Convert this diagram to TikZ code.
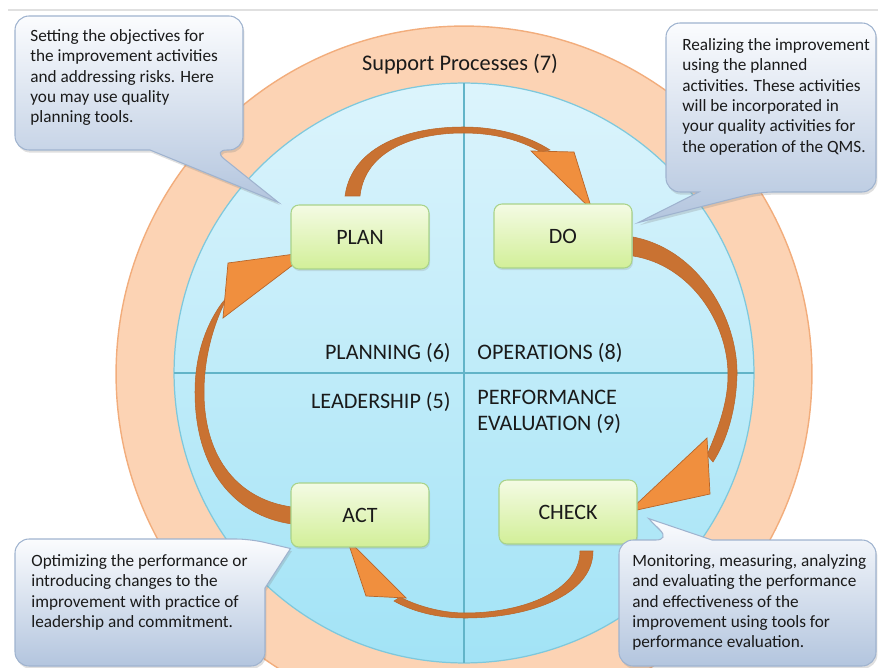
\documentclass[tikz,border=0pt]{standalone}
\usepackage{fontspec}
\setmainfont{Carlito}
\usetikzlibrary{calc,shadows}

\definecolor{ringfill}{HTML}{FCD3B4}
\definecolor{ringedge}{HTML}{F2AD7C}
\definecolor{disctop}{HTML}{DCF4FC}
\definecolor{discbot}{HTML}{A2E3F6}
\definecolor{discedge}{HTML}{7EC8DC}
\definecolor{divline}{HTML}{62B4C8}
\definecolor{boxtop}{HTML}{F4FBE4}
\definecolor{boxbot}{HTML}{D2EF98}
\definecolor{boxedge}{HTML}{A9D38A}
\definecolor{notetop}{HTML}{FBFCFE}
\definecolor{notebot}{HTML}{B3C5DE}
\definecolor{noteedge}{HTML}{9FB3CF}
\definecolor{bodyorange}{HTML}{C97232}
\definecolor{tiporange}{HTML}{F08F3E}
\definecolor{lineorange}{HTML}{B8662A}
\definecolor{ink}{HTML}{1A1A1A}

\tikzset{
  ring/.style={fill=ringfill, draw=ringedge, line width=0.8pt},
  disc/.style={top color=disctop, bottom color=discbot, draw=discedge, line width=0.7pt},
  divider/.style={draw=divline, line width=0.7pt},
  stage/.style={draw=boxedge, top color=boxtop, bottom color=boxbot, line width=0.6pt,
    rounded corners=4.5pt, minimum width=2.76cm, minimum height=1.28cm,
    font=\fontsize{12.5}{15}\selectfont, text=ink,
    drop shadow={shadow xshift=0.6pt, shadow yshift=-1.2pt, opacity=0.2}},
  note/.style={top color=notetop, bottom color=notebot, draw=noteedge, line width=0.6pt,
    drop shadow={shadow xshift=0.8pt, shadow yshift=-1.5pt, opacity=0.25}},
  notetext/.style={anchor=north west, inner sep=0pt, align=left, text=ink,
    font=\fontsize{9.8}{11.6}\selectfont},
  area/.style={inner sep=0pt, align=left, text=ink, font=\fontsize{12.6}{14.8}\selectfont},
  cyclebody/.style={fill=bodyorange, draw=lineorange, line width=0.3pt},
  cyclehead/.style={fill=tiporange, draw=lineorange, line width=0.4pt, line join=miter}
}

\begin{document}
\begin{tikzpicture}[x=0.02cm,y=-0.02cm]
\useasboundingbox (0,0) rectangle (878,668);
\clip (0,0) rectangle (878,668);
\draw[draw=black!12, line width=1.2pt] (8,10) -- (878,10);

\draw[ring] (464,374) circle [radius=6.96cm];
\draw[disc] (464,373) circle [radius=5.8cm];
\begin{scope}
  \clip (464,373) circle [radius=5.8cm];
  \draw[divider] (464,0) -- (464,700);
  \draw[divider] (0,373) -- (900,373);
\end{scope}
\node[area, font=\fontsize{12.7}{15}\selectfont] (support) at (460,64) {Support Processes (7)};

\node[area, anchor=east] (planning) at (451,353) {PLANNING (6)};
\node[area, anchor=west] (operations) at (477,353) {OPERATIONS (8)};
\node[area, anchor=east] (leadership) at (451,402) {LEADERSHIP (5)};
\node[area, anchor=west] (evaluation) at (477,412) {PERFORMANCE\\EVALUATION (9)};

% the four stages
\coordinate (plan pos) at (360,237);
\coordinate (do pos) at (563,236);
\coordinate (act pos) at (360,515);
\coordinate (check pos) at (568,512);

% plan -> do
\fill[cyclebody] (345,196) .. controls (352,145) and (410,127) .. (463,127)
  .. controls (500,127) and (530,137) .. (550,150) -- (541,152)
  .. controls (520,140) and (495,133) .. (463,133)
  .. controls (415,133) and (365,150) .. (360,196) -- cycle;
\filldraw[cyclehead] (531,151) -- (574,152) -- (592,210) -- cycle;
% do -> check
\fill[cyclebody] (633,237) .. controls (700,250) and (738,320) .. (737,375)
  .. controls (736,410) and (727,440) .. (713,462) -- (707,455)
  .. controls (720,425) and (728,400) .. (728,375)
  .. controls (728,322) and (690,265) .. (633,256) -- cycle;
\filldraw[cyclehead] (707,438) -- (710,494) -- (628,512) -- cycle;
% check -> act
\fill[cyclebody] (593,551) .. controls (593,595) and (530,618) .. (465,618)
  .. controls (432,618) and (408,609) .. (394,601) -- (400,597)
  .. controls (415,605) and (440,613) .. (465,613)
  .. controls (525,613) and (580,590) .. (580,551) -- cycle;
\filldraw[cyclehead] (366,596) -- (406,598) -- (347,539) -- cycle;
% act -> plan
\fill[cyclebody] (292,524) .. controls (235,516) and (195,470) .. (195,392)
  .. controls (195,352) and (208,322) .. (222,303) -- (228,296)
  .. controls (214,322) and (204,356) .. (204,392)
  .. controls (204,460) and (240,500) .. (292,507) -- cycle;
\filldraw[cyclehead] (223,318) -- (228,263) -- (310,252) -- cycle;

\node[stage] (plan) at (plan pos) {PLAN};
\node[stage] (do) at (do pos) {DO};
\node[stage] (act) at (act pos) {ACT};
\node[stage] (check) at (check pos) {CHECK};

% callouts
\path[note] (15,90) [rounded corners=8pt] -- (15,16) -- (243,16) -- (243,150) -- (213,150)
  [sharp corners] -- ($(plan.north west)+(-12,-2)$) -- (150,150)
  [rounded corners=8pt] -- (15,150) -- cycle;
\path[note] (666,100) [rounded corners=8pt] -- (666,23) -- (876,23) -- (876,192) -- (759,192)
  [sharp corners] -- ($(do.north east)+(6,19)$) -- (699,192)
  [rounded corners=8pt] -- (666,192) -- cycle;
\path[note] (15,600) [rounded corners=8pt] -- (15,539) -- (250,539)
  [sharp corners] -- ($(act.south west)+(0,1)$) -- (265,588)
  [rounded corners=8pt] -- (265,666) -- (15,666) -- cycle;
\path[note] (619,600) [rounded corners=8pt] -- (619,540) -- (670,540)
  [sharp corners] -- ($(check.south east)+(11,-26)$) -- (712,540)
  [rounded corners=8pt] -- (876,540) -- (876,666) -- (619,666) -- cycle;

\node[notetext] (plan note) at (30,29) {Setting the objectives for\\the improvement activities\\and addressing risks. Here\\you may use quality\\planning tools.};
\node[notetext] (do note) at (682,38) {Realizing the improvement\\using the planned\\activities. These activities\\will be incorporated in\\your quality activities for\\the operation of the QMS.};
\node[notetext] (act note) at (31,554) {Optimizing the performance or\\introducing changes to the\\improvement with practice of\\leadership and commitment.};
\node[notetext] (check note) at (632,554) {Monitoring, measuring, analyzing\\and evaluating the performance\\and effectiveness of the\\improvement using tools for\\performance evaluation.};
\end{tikzpicture}
\end{document}
